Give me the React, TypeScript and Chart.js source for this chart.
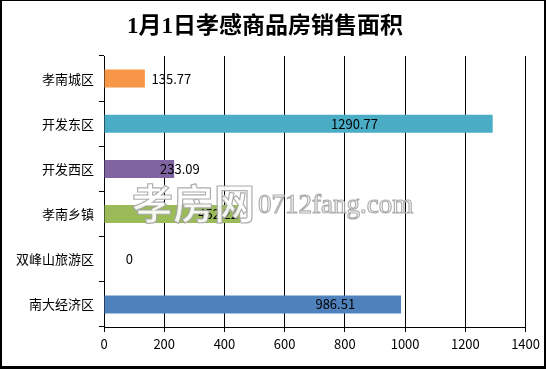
import React, { useEffect, useRef } from 'react';
import { Chart, registerables } from 'chart.js';

Chart.register(...registerables);

const title = '1月1日孝感商品房销售面积';
const categories = ['孝南城区', '开发东区', '开发西区', '孝南乡镇', '双峰山旅游区', '南大经济区'];
const values = [135.77, 1290.77, 233.09, 452.22, 0, 986.51];
const barColors = ['#F79646', '#4BACC6', '#8064A2', '#9BBB59', '#C0504D', '#4F81BD'];
// where each value label is centred, in axis units
const labelCenters = [224, 832, 252, 379, 84, 768];
const xMin = 0;
const xMax = 1400;
const xStep = 200;

const FONT = "'Noto Sans CJK SC', 'Noto Sans', sans-serif";

const valueLabels = {
  id: 'valueLabels',
  afterDatasetsDraw(chart: any) {
    const ctx = chart.ctx;
    const xs = chart.scales.x;
    const meta = chart.getDatasetMeta(0);
    ctx.save();
    ctx.font = `13px ${FONT}`;
    ctx.fillStyle = '#000';
    ctx.textAlign = 'center';
    ctx.textBaseline = 'middle';
    meta.data.forEach((bar: any, i: number) => {
      ctx.fillText(String(values[i]), xs.getPixelForValue(labelCenters[i]), bar.y);
    });
    ctx.restore();
  },
};

const watermark = {
  id: 'watermark',
  afterDraw(chart: any) {
    const ctx = chart.ctx;
    ctx.save();
    ctx.textBaseline = 'alphabetic';
    ctx.textAlign = 'left';
    ctx.lineWidth = 1.2;
    ctx.strokeStyle = 'rgba(160,160,160,0.85)';
    ctx.fillStyle = 'rgba(255,255,255,0.9)';
    ctx.font = `bold 41px ${FONT}`;
    ctx.fillText('孝房网', 130, 218);
    ctx.strokeText('孝房网', 130, 218);
    ctx.font = "27px 'Liberation Serif', serif";
    ctx.fillText('0712fang.com', 256, 212);
    ctx.strokeText('0712fang.com', 256, 212);
    ctx.restore();
  },
};

export default function App() {
  const ref = useRef<HTMLCanvasElement>(null);
  useEffect(() => {
    if (!ref.current) return;
    const chart = new Chart(ref.current, {
      type: 'bar',
      data: {
        labels: categories,
        datasets: [
          {
            data: values,
            backgroundColor: barColors,
            borderWidth: 0,
            barPercentage: 0.4,
            categoryPercentage: 1,
          },
        ],
      },
      options: {
        indexAxis: 'y',
        animation: false,
        responsive: false,
        maintainAspectRatio: false,
        devicePixelRatio: 1,
        layout: { padding: { left: 0, right: 16, top: 0, bottom: 0 } },
        plugins: {
          legend: { display: false },
          tooltip: { enabled: false },
          title: {
            display: true,
            text: title,
            color: '#000',
            font: { family: `'Liberation Serif', ${FONT}`, size: 23, weight: 'bold', lineHeight: 1.2 },
            padding: { top: 12, bottom: 15.4 },
          },
        },
        scales: {
          x: {
            type: 'linear',
            min: xMin,
            max: xMax,
            afterFit: (s: any) => {
              s.height = 39;
            },
            ticks: {
              stepSize: xStep,
              color: '#000',
              font: { family: FONT, size: 13 },
              padding: 4,
              maxRotation: 0,
              callback: (v: any) => String(v),
            },
            grid: { color: '#000', lineWidth: 1, tickLength: 5, drawOnChartArea: true, drawTicks: true },
            border: { color: '#000', width: 1 },
          },
          y: {
            afterFit: (s: any) => {
              s.width = 102;
            },
            ticks: { color: '#000', font: { family: FONT, size: 13 }, padding: 5 },
            grid: { color: '#000', drawOnChartArea: false, drawTicks: true, tickLength: 5, offset: true },
            border: { color: '#000', width: 1 },
          },
        },
      },
      plugins: [valueLabels, watermark],
    });
    return () => chart.destroy();
  }, []);

  return (
    <div
      style={{
        position: 'fixed',
        left: 0,
        top: 0,
        width: 546,
        height: 369,
        boxSizing: 'border-box',
        borderStyle: 'solid',
        borderColor: '#000',
        borderWidth: '1px 2px 3px 2px',
        background: '#fff',
      }}
    >
      <canvas ref={ref} width={542} height={365} style={{ display: 'block', width: 542, height: 365 }} />
    </div>
  );
}
